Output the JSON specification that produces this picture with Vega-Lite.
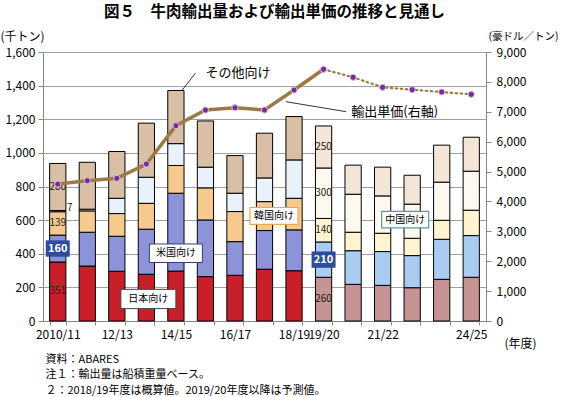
{
  "$schema": "https://vega.github.io/schema/vega-lite/v6.json",
  "autosize": {"type": "none"},
  "width": 443,
  "height": 269,
  "padding": {"left": 43, "top": 52, "right": 76, "bottom": 76},
  "config": {"font": "Noto Sans CJK JP", "view": {"stroke": null}},
  "title": {"text": "図５　牛肉輸出量および輸出単価の推移と見通し", "fontSize": 15.5, "fontWeight": "bold", "anchor": "middle", "dx": 10, "offset": 10, "color": "#000"},
  "datasets": {
    "exports": [
      {"year": "2010/11", "dest": "日本向け", "value": 351, "type": "実績"},
      {"year": "2010/11", "dest": "米国向け", "value": 160, "type": "実績"},
      {"year": "2010/11", "dest": "韓国向け", "value": 139, "type": "実績"},
      {"year": "2010/11", "dest": "中国向け", "value": 7, "type": "実績"},
      {"year": "2010/11", "dest": "その他向け", "value": 280, "type": "実績"},
      {"year": "11/12", "dest": "日本向け", "value": 327, "type": "実績"},
      {"year": "11/12", "dest": "米国向け", "value": 201, "type": "実績"},
      {"year": "11/12", "dest": "韓国向け", "value": 127, "type": "実績"},
      {"year": "11/12", "dest": "中国向け", "value": 10, "type": "実績"},
      {"year": "11/12", "dest": "その他向け", "value": 279, "type": "実績"},
      {"year": "12/13", "dest": "日本向け", "value": 296, "type": "実績"},
      {"year": "12/13", "dest": "米国向け", "value": 208, "type": "実績"},
      {"year": "12/13", "dest": "韓国向け", "value": 135, "type": "実績"},
      {"year": "12/13", "dest": "中国向け", "value": 91, "type": "実績"},
      {"year": "12/13", "dest": "その他向け", "value": 278, "type": "実績"},
      {"year": "13/14", "dest": "日本向け", "value": 278, "type": "実績"},
      {"year": "13/14", "dest": "米国向け", "value": 268, "type": "実績"},
      {"year": "13/14", "dest": "韓国向け", "value": 154, "type": "実績"},
      {"year": "13/14", "dest": "中国向け", "value": 155, "type": "実績"},
      {"year": "13/14", "dest": "その他向け", "value": 322, "type": "実績"},
      {"year": "14/15", "dest": "日本向け", "value": 297, "type": "実績"},
      {"year": "14/15", "dest": "米国向け", "value": 463, "type": "実績"},
      {"year": "14/15", "dest": "韓国向け", "value": 165, "type": "実績"},
      {"year": "14/15", "dest": "中国向け", "value": 130, "type": "実績"},
      {"year": "14/15", "dest": "その他向け", "value": 316, "type": "実績"},
      {"year": "15/16", "dest": "日本向け", "value": 264, "type": "実績"},
      {"year": "15/16", "dest": "米国向け", "value": 337, "type": "実績"},
      {"year": "15/16", "dest": "韓国向け", "value": 191, "type": "実績"},
      {"year": "15/16", "dest": "中国向け", "value": 123, "type": "実績"},
      {"year": "15/16", "dest": "その他向け", "value": 275, "type": "実績"},
      {"year": "16/17", "dest": "日本向け", "value": 272, "type": "実績"},
      {"year": "16/17", "dest": "米国向け", "value": 200, "type": "実績"},
      {"year": "16/17", "dest": "韓国向け", "value": 179, "type": "実績"},
      {"year": "16/17", "dest": "中国向け", "value": 109, "type": "実績"},
      {"year": "16/17", "dest": "その他向け", "value": 224, "type": "実績"},
      {"year": "17/18", "dest": "日本向け", "value": 308, "type": "実績"},
      {"year": "17/18", "dest": "米国向け", "value": 230, "type": "実績"},
      {"year": "17/18", "dest": "韓国向け", "value": 172, "type": "実績"},
      {"year": "17/18", "dest": "中国向け", "value": 141, "type": "実績"},
      {"year": "17/18", "dest": "その他向け", "value": 266, "type": "実績"},
      {"year": "18/19", "dest": "日本向け", "value": 299, "type": "実績"},
      {"year": "18/19", "dest": "米国向け", "value": 243, "type": "実績"},
      {"year": "18/19", "dest": "韓国向け", "value": 188, "type": "実績"},
      {"year": "18/19", "dest": "中国向け", "value": 228, "type": "実績"},
      {"year": "18/19", "dest": "その他向け", "value": 258, "type": "実績"},
      {"year": "19/20", "dest": "日本向け", "value": 260, "type": "予測"},
      {"year": "19/20", "dest": "米国向け", "value": 210, "type": "予測"},
      {"year": "19/20", "dest": "韓国向け", "value": 140, "type": "予測"},
      {"year": "19/20", "dest": "中国向け", "value": 300, "type": "予測"},
      {"year": "19/20", "dest": "その他向け", "value": 250, "type": "予測"},
      {"year": "20/21", "dest": "日本向け", "value": 218, "type": "予測"},
      {"year": "20/21", "dest": "米国向け", "value": 200, "type": "予測"},
      {"year": "20/21", "dest": "韓国向け", "value": 110, "type": "予測"},
      {"year": "20/21", "dest": "中国向け", "value": 226, "type": "予測"},
      {"year": "20/21", "dest": "その他向け", "value": 173, "type": "予測"},
      {"year": "21/22", "dest": "日本向け", "value": 212, "type": "予測"},
      {"year": "21/22", "dest": "米国向け", "value": 201, "type": "予測"},
      {"year": "21/22", "dest": "韓国向け", "value": 109, "type": "予測"},
      {"year": "21/22", "dest": "中国向け", "value": 222, "type": "予測"},
      {"year": "21/22", "dest": "その他向け", "value": 171, "type": "予測"},
      {"year": "22/23", "dest": "日本向け", "value": 198, "type": "予測"},
      {"year": "22/23", "dest": "米国向け", "value": 191, "type": "予測"},
      {"year": "22/23", "dest": "韓国向け", "value": 103, "type": "予測"},
      {"year": "22/23", "dest": "中国向け", "value": 203, "type": "予測"},
      {"year": "22/23", "dest": "その他向け", "value": 172, "type": "予測"},
      {"year": "23/24", "dest": "日本向け", "value": 248, "type": "予測"},
      {"year": "23/24", "dest": "米国向け", "value": 238, "type": "予測"},
      {"year": "23/24", "dest": "韓国向け", "value": 113, "type": "予測"},
      {"year": "23/24", "dest": "中国向け", "value": 227, "type": "予測"},
      {"year": "23/24", "dest": "その他向け", "value": 220, "type": "予測"},
      {"year": "24/25", "dest": "日本向け", "value": 260, "type": "予測"},
      {"year": "24/25", "dest": "米国向け", "value": 248, "type": "予測"},
      {"year": "24/25", "dest": "韓国向け", "value": 151, "type": "予測"},
      {"year": "24/25", "dest": "中国向け", "value": 232, "type": "予測"},
      {"year": "24/25", "dest": "その他向け", "value": 202, "type": "予測"}
    ],
    "price": [
      {"year": "2010/11", "price": 4580, "type": "実績"},
      {"year": "11/12", "price": 4694, "type": "実績"},
      {"year": "12/13", "price": 4774, "type": "実績"},
      {"year": "13/14", "price": 5253, "type": "実績"},
      {"year": "14/15", "price": 6534, "type": "実績"},
      {"year": "15/16", "price": 7059, "type": "実績"},
      {"year": "16/17", "price": 7137, "type": "実績"},
      {"year": "17/18", "price": 7059, "type": "実績"},
      {"year": "18/19", "price": 7728, "type": "実績"},
      {"year": "19/20", "price": 8421, "type": "予測"},
      {"year": "20/21", "price": 8153, "type": "予測"},
      {"year": "21/22", "price": 7818, "type": "予測"},
      {"year": "22/23", "price": 7739, "type": "予測"},
      {"year": "23/24", "price": 7661, "type": "予測"},
      {"year": "24/25", "price": 7584, "type": "予測"}
    ],
    "labels": [
      {"year": "13/14", "v": 131, "label": "日本向け"},
      {"year": "14/15", "v": 403, "label": "米国向け"},
      {"year": "17/18", "v": 625, "label": "韓国向け"},
      {"year": "22/23", "v": 603, "label": "中国向け"},
      {"year": "16/17", "v": 1474, "label": "その他向け", "x1": "15/16", "p1": 1474, "x2": "14/15", "p2": 1371},
      {"year": "21/22", "v": 7002, "label": "輸出単価(右軸)", "x1": "18/19", "p1": 7337, "x2": "20/21", "p2": 7003}
    ]
  },
  "resolve": {"scale": {"y": "independent"}, "axis": {"y": "independent", "x": "independent"}},
  "layer": [
    {
      "data": {"name": "exports"},
      "transform": [
        {"calculate": "indexof(['日本向け','米国向け','韓国向け','中国向け','その他向け'], datum.dest)", "as": "ord"},
        {"calculate": "datum.dest + datum.type", "as": "key"}
      ],
      "mark": {"type": "bar", "stroke": "#000", "strokeWidth": 1},
      "encoding": {
        "x": {"field": "year", "type": "nominal",
          "scale": {"type": "band", "domain": ["2010/11","11/12","12/13","13/14","14/15","15/16","16/17","17/18","18/19","19/20","20/21","21/22","22/23","23/24","24/25"], "paddingInner": 0.45, "paddingOuter": 0.225},
          "axis": {
            "orient": "bottom",
            "labelExpr": "indexof(['2010/11','12/13','14/15','16/17','18/19','19/20','21/22','24/25'], datum.value) >= 0 ? datum.value : ''",
            "labelAngle": 0, "labelFontSize": 12, "labelColor": "#000", "labelPadding": 4, "labelOverlap": false, "labelBound": false, "labelFlush": false,
            "tickBand": "extent", "tickSize": 4, "tickColor": "#888", "domainColor": "#888",
            "title": ["資料：ABARES", "注１：輸出量は船積重量ベース。", "\u00a0\u00a0\u00a0２：2018/19年度は概算値。2019/20年度以降は予測値。"],
            "titleX": 2, "titleY": 32, "titleAlign": "left", "titleAnchor": "start", "titleBaseline": "top", "titleLineHeight": 15.5,
            "titleFontWeight": "normal", "titleFontSize": 11, "titleColor": "#000"
          }
        },
        "y": {"field": "value", "type": "quantitative", "stack": "zero",
          "scale": {"domain": [0, 1600], "nice": false},
          "axis": {
            "values": [0,200,400,600,800,1000,1200,1400,1600], "format": ",.0f", "orient": "left",
            "labelFontSize": 12, "labelColor": "#000", "labelPadding": 3, "tickSize": 5, "tickColor": "#888", "domainColor": "#888",
            "grid": true, "gridColor": "#a0a0a0",
            "title": "(千トン)", "titleAngle": 0, "titleAlign": "left", "titleBaseline": "middle", "titleX": -43, "titleY": -16,
            "titleFontWeight": "normal", "titleFontSize": 12, "titleColor": "#000"
          }
        },
        "color": {"field": "key", "type": "nominal", "legend": null,
          "scale": {
            "domain": ["日本向け実績","米国向け実績","韓国向け実績","中国向け実績","その他向け実績","日本向け予測","米国向け予測","韓国向け予測","中国向け予測","その他向け予測"],
            "range": ["#C8202A","#8D93D8","#F6C98E","#E9F1FA","#D9BFA5","#C69394","#A9CCF0","#FFF4CF","#FDF8F0","#F3E6D8"]
          }
        },
        "order": {"field": "ord", "type": "quantitative"}
      }
    },
    {
      "data": {"name": "exports"},
      "transform": [
        {"calculate": "indexof(['日本向け','米国向け','韓国向け','中国向け','その他向け'], datum.dest)", "as": "ord"},
        {"stack": "value", "groupby": ["year"], "sort": [{"field": "ord", "order": "ascending"}], "as": ["v0", "v1"]},
        {"calculate": "(datum.v0 + datum.v1) / 2", "as": "mid"},
        {"filter": "(datum.year == '2010/11' && (datum.dest == '日本向け' || datum.dest == '韓国向け' || datum.dest == 'その他向け')) || (datum.year == '19/20' && datum.dest != '米国向け')"}
      ],
      "mark": {"type": "text", "fontSize": 10, "color": "#222", "baseline": "middle"},
      "encoding": {
        "x": {"field": "year", "type": "nominal", "axis": null},
        "y": {"field": "mid", "type": "quantitative", "axis": null, "scale": {"domain": [0, 1600], "nice": false}},
        "text": {"field": "value", "type": "quantitative"}
      }
    },
    {
      "data": {"name": "exports"},
      "transform": [
        {"calculate": "indexof(['日本向け','米国向け','韓国向け','中国向け','その他向け'], datum.dest)", "as": "ord"},
        {"stack": "value", "groupby": ["year"], "sort": [{"field": "ord", "order": "ascending"}], "as": ["v0", "v1"]},
        {"calculate": "(datum.v0 + datum.v1) / 2", "as": "mid"},
        {"filter": "datum.year == '2010/11' && datum.dest == '中国向け'"}
      ],
      "mark": {"type": "text", "fontSize": 10, "color": "#222", "baseline": "middle", "dx": 12, "dy": -3},
      "encoding": {
        "x": {"field": "year", "type": "nominal", "axis": null},
        "y": {"field": "mid", "type": "quantitative", "axis": null, "scale": {"domain": [0, 1600], "nice": false}},
        "text": {"field": "value", "type": "quantitative"}
      }
    },
    {
      "data": {"name": "exports"},
      "transform": [
        {"calculate": "indexof(['日本向け','米国向け','韓国向け','中国向け','その他向け'], datum.dest)", "as": "ord"},
        {"stack": "value", "groupby": ["year"], "sort": [{"field": "ord", "order": "ascending"}], "as": ["v0", "v1"]},
        {"calculate": "(datum.v0 + datum.v1) / 2", "as": "mid"},
        {"filter": "(datum.year == '2010/11' || datum.year == '19/20') && datum.dest == '米国向け'"}
      ],
      "mark": {"type": "point", "shape": "M-1,-0.68L1,-0.68L1,0.68L-1,0.68Z", "size": 576, "filled": true, "fill": "#2F4A9E", "opacity": 1, "strokeWidth": 0},
      "encoding": {
        "x": {"field": "year", "type": "nominal", "axis": null},
        "y": {"field": "mid", "type": "quantitative", "axis": null, "scale": {"domain": [0, 1600], "nice": false}}
      }
    },
    {
      "data": {"name": "exports"},
      "transform": [
        {"calculate": "indexof(['日本向け','米国向け','韓国向け','中国向け','その他向け'], datum.dest)", "as": "ord"},
        {"stack": "value", "groupby": ["year"], "sort": [{"field": "ord", "order": "ascending"}], "as": ["v0", "v1"]},
        {"calculate": "(datum.v0 + datum.v1) / 2", "as": "mid"},
        {"filter": "(datum.year == '2010/11' || datum.year == '19/20') && datum.dest == '米国向け'"}
      ],
      "mark": {"type": "text", "fontSize": 11, "fontWeight": "bold", "color": "#fff", "baseline": "middle"},
      "encoding": {
        "x": {"field": "year", "type": "nominal", "axis": null},
        "y": {"field": "mid", "type": "quantitative", "axis": null, "scale": {"domain": [0, 1600], "nice": false}},
        "text": {"field": "value", "type": "quantitative"}
      }
    },
    {
      "data": {"name": "labels"},
      "transform": [{"filter": "datum.label == '日本向け'"}],
      "mark": {"type": "point", "shape": "M-1,-0.35L1,-0.35L1,0.35L-1,0.35Z", "size": 3025, "filled": true, "fill": "#fff", "stroke": "#444", "strokeWidth": 1, "opacity": 1, "xOffset": 2},
      "encoding": {"x": {"field": "year", "type": "nominal", "axis": null}, "y": {"field": "v", "type": "quantitative", "axis": null, "scale": {"domain": [0, 1600], "nice": false}}}
    },
    {
      "data": {"name": "labels"},
      "transform": [{"filter": "datum.label == '米国向け'"}],
      "mark": {"type": "point", "shape": "M-1,-0.35L1,-0.35L1,0.35L-1,0.35Z", "size": 2809, "filled": true, "fill": "#fff", "stroke": "#33407A", "strokeWidth": 1, "opacity": 1},
      "encoding": {"x": {"field": "year", "type": "nominal", "axis": null}, "y": {"field": "v", "type": "quantitative", "axis": null, "scale": {"domain": [0, 1600], "nice": false}}}
    },
    {
      "data": {"name": "labels"},
      "transform": [{"filter": "datum.label == '韓国向け'"}],
      "mark": {"type": "point", "shape": "M-1,-0.35L1,-0.35L1,0.35L-1,0.35Z", "size": 2304, "filled": true, "fill": "#fff", "stroke": "#E8A848", "strokeWidth": 1.2, "opacity": 1, "xOffset": 9.5},
      "encoding": {"x": {"field": "year", "type": "nominal", "axis": null}, "y": {"field": "v", "type": "quantitative", "axis": null, "scale": {"domain": [0, 1600], "nice": false}}}
    },
    {
      "data": {"name": "labels"},
      "transform": [{"filter": "datum.label == '中国向け'"}],
      "mark": {"type": "point", "shape": "M-1,-0.35L1,-0.35L1,0.35L-1,0.35Z", "size": 2209, "filled": true, "fill": "#fff", "stroke": "#5A9A9A", "strokeWidth": 1.2, "opacity": 1, "xOffset": -7},
      "encoding": {"x": {"field": "year", "type": "nominal", "axis": null}, "y": {"field": "v", "type": "quantitative", "axis": null, "scale": {"domain": [0, 1600], "nice": false}}}
    },
    {
      "data": {"name": "labels"},
      "transform": [{"filter": "datum.label == '日本向け'"}],
      "mark": {"type": "text", "fontSize": 10, "color": "#000", "baseline": "middle", "xOffset": 2},
      "encoding": {"x": {"field": "year", "type": "nominal", "axis": null}, "y": {"field": "v", "type": "quantitative", "axis": null, "scale": {"domain": [0, 1600], "nice": false}}, "text": {"field": "label"}}
    },
    {
      "data": {"name": "labels"},
      "transform": [{"filter": "datum.label == '米国向け'"}],
      "mark": {"type": "text", "fontSize": 10, "color": "#000", "baseline": "middle"},
      "encoding": {"x": {"field": "year", "type": "nominal", "axis": null}, "y": {"field": "v", "type": "quantitative", "axis": null, "scale": {"domain": [0, 1600], "nice": false}}, "text": {"field": "label"}}
    },
    {
      "data": {"name": "labels"},
      "transform": [{"filter": "datum.label == '韓国向け'"}],
      "mark": {"type": "text", "fontSize": 10, "color": "#000", "baseline": "middle", "xOffset": 9.5},
      "encoding": {"x": {"field": "year", "type": "nominal", "axis": null}, "y": {"field": "v", "type": "quantitative", "axis": null, "scale": {"domain": [0, 1600], "nice": false}}, "text": {"field": "label"}}
    },
    {
      "data": {"name": "labels"},
      "transform": [{"filter": "datum.label == '中国向け'"}],
      "mark": {"type": "text", "fontSize": 10, "color": "#000", "baseline": "middle", "xOffset": -7},
      "encoding": {"x": {"field": "year", "type": "nominal", "axis": null}, "y": {"field": "v", "type": "quantitative", "axis": null, "scale": {"domain": [0, 1600], "nice": false}}, "text": {"field": "label"}}
    },
    {
      "data": {"name": "labels"},
      "transform": [{"filter": "datum.label == 'その他向け'"}],
      "mark": {"type": "rule", "color": "#333", "strokeWidth": 1, "xOffset": -10, "x2Offset": 6},
      "encoding": {"x": {"field": "x1", "type": "nominal", "axis": null}, "x2": {"field": "x2"}, "y": {"field": "p1", "type": "quantitative", "axis": null, "scale": {"domain": [0, 1600], "nice": false}}, "y2": {"field": "p2"}}
    },
    {
      "data": {"name": "labels"},
      "transform": [{"filter": "datum.label == 'その他向け'"}],
      "mark": {"type": "text", "fontSize": 13, "color": "#000", "baseline": "middle", "xOffset": 3},
      "encoding": {"x": {"field": "year", "type": "nominal", "axis": null}, "y": {"field": "v", "type": "quantitative", "axis": null, "scale": {"domain": [0, 1600], "nice": false}}, "text": {"field": "label"}}
    },
    {
      "data": {"name": "price"},
      "transform": [{"filter": "datum.type == '実績' || datum.year == '19/20'"}],
      "mark": {"type": "line", "color": "#9C7A46", "strokeWidth": 3.5},
      "encoding": {
        "x": {"field": "year", "type": "nominal",
          "axis": {"orient": "bottom", "title": "(年度)", "domain": false, "ticks": false, "labels": false, "grid": false,
            "titleX": 477, "titleY": 22, "titleAlign": "center", "titleBaseline": "middle", "titleFontWeight": "normal", "titleFontSize": 12, "titleColor": "#000"}},
        "y": {"field": "price", "type": "quantitative",
          "scale": {"domain": [0, 9000], "nice": false},
          "axis": {
            "orient": "right", "values": [0,1000,2000,3000,4000,5000,6000,7000,8000,9000], "format": ",.0f",
            "labelFontSize": 12, "labelColor": "#000", "labelPadding": 5, "tickSize": 5, "tickColor": "#888", "domainColor": "#888", "grid": false,
            "title": "(豪ドル／トン)", "titleAngle": 0, "titleAlign": "left", "titleBaseline": "middle", "titleX": 2, "titleY": -16,
            "titleFontWeight": "normal", "titleFontSize": 10.5, "titleColor": "#000"
          }
        }
      }
    },
    {
      "data": {"name": "price"},
      "transform": [{"filter": "datum.type == '予測'"}],
      "mark": {"type": "line", "color": "#9C7A46", "strokeWidth": 2.2, "strokeDash": [1.5, 3.5], "strokeCap": "round"},
      "encoding": {
        "x": {"field": "year", "type": "nominal", "axis": null},
        "y": {"field": "price", "type": "quantitative", "axis": null, "scale": {"domain": [0, 9000], "nice": false}}
      }
    },
    {
      "data": {"name": "price"},
      "mark": {"type": "point", "filled": true, "fill": "#7B2C8F", "stroke": "#D8C0E0", "strokeWidth": 1, "size": 38, "opacity": 1},
      "encoding": {
        "x": {"field": "year", "type": "nominal", "axis": null},
        "y": {"field": "price", "type": "quantitative", "axis": null, "scale": {"domain": [0, 9000], "nice": false}}
      }
    },
    {
      "data": {"name": "labels"},
      "transform": [{"filter": "datum.label == '輸出単価(右軸)'"}],
      "mark": {"type": "rule", "color": "#333", "strokeWidth": 1, "xOffset": -8, "x2Offset": -7},
      "encoding": {"x": {"field": "x1", "type": "nominal", "axis": null}, "x2": {"field": "x2"}, "y": {"field": "p1", "type": "quantitative", "axis": null, "scale": {"domain": [0, 9000], "nice": false}}, "y2": {"field": "p2"}}
    },
    {
      "data": {"name": "labels"},
      "transform": [{"filter": "datum.label == '輸出単価(右軸)'"}],
      "mark": {"type": "text", "fontSize": 13, "color": "#000", "baseline": "middle", "xOffset": 12},
      "encoding": {"x": {"field": "year", "type": "nominal", "axis": null}, "y": {"field": "v", "type": "quantitative", "axis": null, "scale": {"domain": [0, 9000], "nice": false}}, "text": {"field": "label"}}
    }
  ]
}
